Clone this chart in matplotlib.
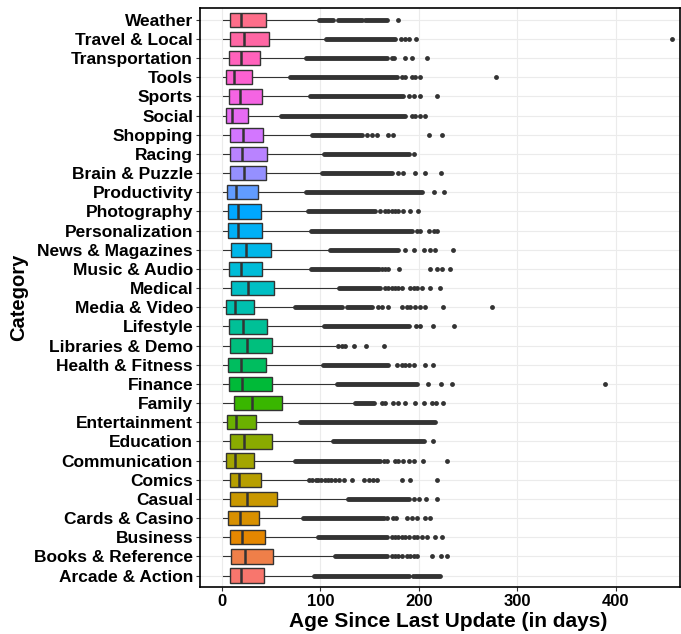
import numpy as np
import matplotlib
matplotlib.use("Agg")
import matplotlib.pyplot as plt

plt.rcParams['font.family'] = ['Liberation Sans', 'DejaVu Sans']

# ---- data (bottom -> top) ----
categories = ["Arcade & Action", "Books & Reference", "Business", "Cards & Casino", "Casual",
              "Comics", "Communication", "Education", "Entertainment", "Family",
              "Finance", "Health & Fitness", "Libraries & Demo", "Lifestyle", "Media & Video",
              "Medical", "Music & Audio", "News & Magazines", "Personalization", "Photography",
              "Productivity", "Brain & Puzzle", "Racing", "Shopping", "Social",
              "Sports", "Tools", "Transportation", "Travel & Local", "Weather"]

whisker_lo = [1] * 30
q1 = [7.8, 8.8, 7.8, 6.4, 8.5, 7.8, 4.4, 7.8, 5.4, 12.5,
      6.8, 6.4, 8.1, 7.5, 4.4, 9.5, 6.8, 8.8, 6.4, 6.4,
      5.4, 7.8, 7.8, 7.8, 3.7, 6.8, 4.4, 6.8, 7.8, 7.8]
median = [19.3, 23.4, 20.7, 18.3, 25.4, 17.6, 13.6, 22.7, 14.2, 30.5,
          20.7, 19.3, 25.4, 21.4, 13.6, 26.4, 19.3, 24.0, 16.3, 16.3,
          14.2, 22.0, 20.0, 21.7, 10.2, 18.0, 12.5, 19.0, 22.0, 19.3]
q3 = [42.4, 51.5, 43.4, 37.3, 56.3, 39.3, 32.5, 50.5, 35.0, 61.4,
      50.5, 45.0, 51.2, 46.0, 32.5, 53.2, 40.3, 49.5, 40.3, 39.3,
      37.0, 45.0, 46.0, 41.4, 26.4, 40.3, 30.5, 38.3, 47.5, 44.4]
whisker_hi = [92, 114, 96, 82, 127, 87, 73, 112, 78, 134,
              115, 102, 115, 103, 73, 118, 90, 109, 90, 87,
              84, 101, 103, 91, 59, 89, 68, 85, 105, 98]
dense_outliers = [
    [(93, 189.5), (196, 221.7)],
    [(115, 167.5)],
    [(97, 167.5)],
    [(82.7, 164)],
    [(127.8, 189.5)],
    [],
    [(74, 160.7)],
    [(113, 204.7)],
    [(79.3, 216.6)],
    [(135, 154)],
    [(116.6, 198)],
    [(103, 169)],
    [],
    [(103.7, 189.5)],
    [(74, 121.7), (126.8, 152)],
    [(119, 160.7)],
    [(90.5, 159)],
    [(110, 179)],
    [(90.5, 193)],
    [(87.8, 155.6)],
    [(85, 203)],
    [(101.7, 172.5)],
    [(104, 189.5)],
    [(91.9, 142)],
    [(60, 186)],
    [(89.8, 184)],
    [(69, 177.6)],
    [(85.4, 167.5)],
    [(106, 176)],
    [(98.6, 113), (118, 142), (145, 167.5)],
]
sparse_outliers = [
    [193.5],
    [172.5, 176, 179, 182.7, 187.8, 191, 194.6, 198, 213, 222, 228.5],
    [172.5, 176, 179, 182.7, 186, 189.5, 194.6, 198, 203, 208, 216, 223],
    [167.5, 173.6, 177, 187.8, 193, 198, 206, 211.5],
    [194.6, 200, 207, 218],
    [88.5, 91, 95, 98, 101, 105, 108, 111, 115, 119, 123.4, 132, 143.7, 148.8, 153, 157, 183, 191, 218],
    [164, 167.5, 176, 179, 184, 189.5, 194.6, 204.4, 228.5],
    [214],
    [],
    [162, 166, 174, 179, 186, 196, 204.7, 213, 217, 224],
    [209, 222, 233.6, 389],
    [177.6, 182.7, 186, 189.5, 194.6, 206, 214],
    [118, 121.7, 125, 133.6, 146, 165],
    [197, 201, 214, 236],
    [158, 162, 169, 182.7, 187.8, 191, 196, 201, 206, 224, 274],
    [165.8, 169, 172.5, 176, 179, 182.7, 191, 194.6, 198, 203, 211.5, 221.7],
    [162, 165.8, 169, 180, 211.5, 218, 223, 232],
    [186, 194.6, 204.7, 211.5, 216.6, 235],
    [198, 201, 210, 215, 218],
    [160.7, 165.8, 169, 172.5, 176, 179, 184, 191, 199],
    [215, 225],
    [179, 184, 196, 206, 222],
    [195],
    [147, 152, 157, 169, 174, 210, 223],
    [193, 196, 201, 206],
    [189.5, 194.6, 201, 218],
    [182.7, 186, 193, 196, 201, 278],
    [172.5, 175, 186, 193, 208],
    [182, 186, 189.5, 197, 457],
    [179],
]
x_ticks = [0, 100, 200, 300, 400]


# ---- ggplot hue palette (HCL) ----
def hcl_to_rgb(h, c=100, l=65):
    Xn, Yn, Zn = 95.047, 100.0, 108.883
    un = 4 * Xn / (Xn + 15 * Yn + 3 * Zn)
    vn = 9 * Yn / (Xn + 15 * Yn + 3 * Zn)
    hr = np.deg2rad(h)
    U, V = c * np.cos(hr), c * np.sin(hr)
    Y = Yn * ((l + 16) / 116) ** 3 if l > 8 else Yn * l / 903.3
    u = U / (13 * l) + un
    v = V / (13 * l) + vn
    X = 9.0 * Y * u / (4 * v)
    Z = -X / 3 - 5 * Y + 3 * Y / v
    X, Y, Z = X / 100, Y / 100, Z / 100
    r = 3.240479 * X - 1.537150 * Y - 0.498535 * Z
    g = -0.969256 * X + 1.875992 * Y + 0.041556 * Z
    b = 0.055648 * X - 0.204043 * Y + 1.057311 * Z

    def gam(t):
        t = 12.92 * t if t <= 0.0031308 else 1.055 * t ** (1 / 2.4) - 0.055
        return min(max(t, 0), 1)
    return (gam(r), gam(g), gam(b))


n = len(categories)
hues = np.linspace(15, 375, n + 1)[:n]
colors = [hcl_to_rgb(h) for h in hues]

# ---- figure ----
fig = plt.figure(figsize=(6.81, 6.34), dpi=100)
ax = fig.add_axes([0.2937, 0.0741, 0.7048, 0.9129])

positions = np.arange(1, n + 1)
stats = []
for i in range(n):
    stats.append(dict(med=median[i], q1=q1[i], q3=q3[i],
                      whislo=whisker_lo[i], whishi=whisker_hi[i],
                      fliers=sparse_outliers[i]))

dark = '#333333'
bp = ax.bxp(stats, positions=positions, orientation='horizontal', widths=0.75,
            patch_artist=True, showfliers=True,
            boxprops=dict(edgecolor=dark, linewidth=1.0),
            medianprops=dict(color=dark, linewidth=1.8),
            whiskerprops=dict(color=dark, linewidth=0.8),
            capprops=dict(linewidth=0),
            flierprops=dict(marker='o', markersize=3.5, markerfacecolor=dark,
                            markeredgecolor=dark, markeredgewidth=0))
for patch, col in zip(bp['boxes'], colors):
    patch.set_facecolor(col)

for i in range(n):
    for (s, e) in dense_outliers[i]:
        lc = ax.hlines(positions[i], s, e, colors=dark, linewidth=3.5, zorder=2.5)
        lc.set_capstyle('round')

ax.set_xlim(-22.3, 465)
ax.set_ylim(0.4, n + 0.6)
ax.set_xticks(x_ticks)
ax.set_xticklabels([str(t) for t in x_ticks], fontsize=12, fontweight='bold', color='black')
ax.set_yticks(positions)
ax.set_yticklabels(categories, fontsize=12.5, fontweight='bold', color='black')
ax.tick_params(axis='both', length=3, color=dark, width=0.8, pad=2)

ax.grid(True, color='#EBEBEB', linewidth=0.8, zorder=0)
ax.set_axisbelow(True)
for sp in ax.spines.values():
    sp.set_color('black')
    sp.set_linewidth(1.2)

ax.set_xlabel('Age Since Last Update (in days)', fontsize=15, fontweight='bold',
              labelpad=2, x=0.518)
ax.set_ylabel('Category', fontsize=14.5, fontweight='bold', labelpad=4)

fig.savefig('out.png', dpi=100, facecolor='white')
